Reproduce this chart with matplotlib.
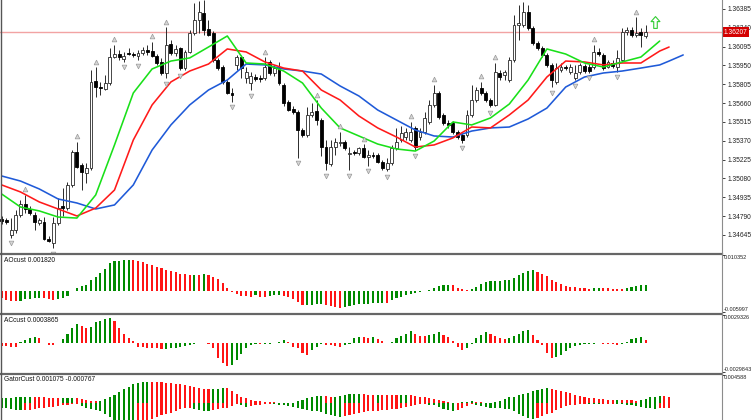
import numpy as np
import matplotlib
matplotlib.use("Agg")
import matplotlib.pyplot as plt
from matplotlib.path import Path
from matplotlib.lines import Line2D

plt.rcParams['font.family'] = ['Liberation Sans', 'DejaVu Sans']

# ---------------- data ----------------
opens = [
    1.34768, 1.34760, 1.34645, 1.34683, 1.34799, 1.34883, 1.34845, 1.34799, 1.34737, 1.34745,
    1.34614, 1.34583, 1.34737, 1.34868, 1.34852, 1.35030, 1.35284, 1.35184, 1.35122, 1.35160,
    1.35830, 1.35784, 1.35769, 1.35815, 1.36015, 1.36038, 1.36000, 1.36046, 1.36038, 1.36023,
    1.36046, 1.36069, 1.36061, 1.36023, 1.35977, 1.35892, 1.36115, 1.36046, 1.36084, 1.35930,
    1.36054, 1.36200, 1.36300, 1.36354, 1.36231, 1.36200, 1.35992, 1.35938, 1.35823, 1.35738,
    1.35954, 1.36015, 1.35853, 1.35815, 1.35861, 1.35853, 1.35853, 1.35977, 1.35892, 1.35930,
    1.35800, 1.35669, 1.35615, 1.35592, 1.35453, 1.35415, 1.35569, 1.35600, 1.35530, 1.35322,
    1.35191, 1.35322, 1.35353, 1.35361, 1.35268, 1.35284, 1.35276, 1.35315, 1.35245, 1.35261,
    1.35261, 1.35207, 1.35153, 1.35199, 1.35315, 1.35376, 1.35399, 1.35376, 1.35469, 1.35399,
    1.35438, 1.35515, 1.35646, 1.35738, 1.35569, 1.35507, 1.35507, 1.35438, 1.35415, 1.35415,
    1.35569, 1.35684, 1.35776, 1.35738, 1.35684, 1.35646, 1.35892, 1.35877, 1.35838, 1.35992,
    1.36262, 1.36262, 1.36362, 1.36238, 1.36123, 1.36084, 1.36031, 1.35954, 1.35823, 1.35915,
    1.35938, 1.35900, 1.35853, 1.35900, 1.35946, 1.35938, 1.35938, 1.36054, 1.36031, 1.35938,
    1.35969, 1.35938, 1.35992, 1.36208, 1.36223, 1.36185, 1.36208, 1.36177]
highs = [
    1.34791, 1.34775, 1.34775, 1.34837, 1.34914, 1.34953, 1.34868, 1.34822, 1.34775, 1.34783,
    1.34637, 1.34783, 1.34929, 1.35006, 1.35053, 1.35299, 1.35361, 1.35199, 1.35199, 1.35915,
    1.35938, 1.35823, 1.35877, 1.36084, 1.36108, 1.36069, 1.36054, 1.36084, 1.36054, 1.36069,
    1.36092, 1.36108, 1.36131, 1.36038, 1.36008, 1.36246, 1.36146, 1.36108, 1.36092, 1.36069,
    1.36223, 1.36431, 1.36446, 1.36454, 1.36300, 1.36215, 1.36008, 1.35954, 1.35838, 1.35776,
    1.36031, 1.36031, 1.35938, 1.35900, 1.35884, 1.35877, 1.36015, 1.35992, 1.35954, 1.35977,
    1.35815, 1.35684, 1.35638, 1.35607, 1.35469, 1.35630, 1.35661, 1.35684, 1.35546, 1.35376,
    1.35376, 1.35392, 1.35438, 1.35376, 1.35322, 1.35299, 1.35322, 1.35345, 1.35299, 1.35284,
    1.35276, 1.35222, 1.35238, 1.35338, 1.35469, 1.35484, 1.35469, 1.35515, 1.35484, 1.35469,
    1.35592, 1.35684, 1.35800, 1.35753, 1.35584, 1.35530, 1.35523, 1.35453, 1.35430, 1.35607,
    1.35800, 1.35784, 1.35823, 1.35753, 1.35700, 1.35969, 1.35915, 1.35915, 1.36015, 1.36339,
    1.36416, 1.36439, 1.36416, 1.36254, 1.36138, 1.36100, 1.36046, 1.35969, 1.35969, 1.35969,
    1.35954, 1.35961, 1.35954, 1.35969, 1.35961, 1.35961, 1.36108, 1.36084, 1.36046, 1.35992,
    1.35992, 1.36069, 1.36238, 1.36246, 1.36246, 1.36323, 1.36238, 1.36262]
lows = [
    1.34729, 1.34729, 1.34622, 1.34660, 1.34783, 1.34814, 1.34799, 1.34683, 1.34722, 1.34606,
    1.34591, 1.34544, 1.34722, 1.34791, 1.34837, 1.35014, 1.35160, 1.34991, 1.35045, 1.35145,
    1.35707, 1.35723, 1.35761, 1.35800, 1.36008, 1.35992, 1.35977, 1.36031, 1.36015, 1.35992,
    1.36031, 1.36031, 1.36015, 1.35954, 1.35877, 1.35853, 1.36031, 1.36023, 1.35915, 1.35915,
    1.36046, 1.36185, 1.36200, 1.36185, 1.36177, 1.35977, 1.35915, 1.35807, 1.35730, 1.35669,
    1.35915, 1.35853, 1.35815, 1.35761, 1.35830, 1.35823, 1.35838, 1.35877, 1.35869, 1.35800,
    1.35638, 1.35600, 1.35576, 1.35238, 1.35399, 1.35399, 1.35553, 1.35492, 1.35253, 1.35145,
    1.35176, 1.35261, 1.35330, 1.35299, 1.35145, 1.35261, 1.35261, 1.35238, 1.35176, 1.35238,
    1.35199, 1.35145, 1.35137, 1.35184, 1.35299, 1.35361, 1.35376, 1.35361, 1.35299, 1.35376,
    1.35422, 1.35500, 1.35630, 1.35538, 1.35492, 1.35469, 1.35422, 1.35384, 1.35353, 1.35399,
    1.35553, 1.35669, 1.35723, 1.35669, 1.35630, 1.35638, 1.35838, 1.35838, 1.35823, 1.35977,
    1.36146, 1.36246, 1.36223, 1.36108, 1.36069, 1.36015, 1.35938, 1.35784, 1.35807, 1.35900,
    1.35915, 1.35884, 1.35838, 1.35884, 1.35892, 1.35892, 1.35923, 1.36023, 1.35915, 1.35930,
    1.35930, 1.35900, 1.35977, 1.36185, 1.36169, 1.36169, 1.36092, 1.36161]
closes = [
    1.34752, 1.34745, 1.34683, 1.34799, 1.34883, 1.34845, 1.34814, 1.34745, 1.34760, 1.34614,
    1.34598, 1.34737, 1.34852, 1.34852, 1.35030, 1.35284, 1.35168, 1.35130, 1.35160, 1.35823,
    1.35784, 1.35776, 1.35815, 1.36015, 1.36038, 1.36015, 1.36023, 1.36038, 1.36031, 1.36046,
    1.36069, 1.36054, 1.36023, 1.35969, 1.35892, 1.36108, 1.36046, 1.36077, 1.35930, 1.36054,
    1.36200, 1.36300, 1.36362, 1.36223, 1.36185, 1.35992, 1.35930, 1.35823, 1.35738, 1.35723,
    1.36015, 1.35930, 1.35900, 1.35869, 1.35846, 1.35846, 1.35938, 1.35892, 1.35930, 1.35815,
    1.35661, 1.35607, 1.35592, 1.35453, 1.35415, 1.35569, 1.35592, 1.35530, 1.35322, 1.35199,
    1.35322, 1.35361, 1.35361, 1.35315, 1.35276, 1.35276, 1.35315, 1.35245, 1.35261, 1.35253,
    1.35207, 1.35160, 1.35199, 1.35315, 1.35361, 1.35430, 1.35438, 1.35438, 1.35322, 1.35438,
    1.35546, 1.35646, 1.35738, 1.35553, 1.35507, 1.35492, 1.35438, 1.35399, 1.35376, 1.35569,
    1.35684, 1.35761, 1.35738, 1.35684, 1.35646, 1.35900, 1.35861, 1.35900, 1.35992, 1.36262,
    1.36277, 1.36362, 1.36238, 1.36123, 1.36084, 1.36031, 1.35954, 1.35838, 1.35930, 1.35938,
    1.35930, 1.35938, 1.35892, 1.35954, 1.35907, 1.35907, 1.36054, 1.36038, 1.35930, 1.35977,
    1.35946, 1.36008, 1.36208, 1.36223, 1.36185, 1.36200, 1.36185, 1.36208]

# Alligator lines (sampled bar index -> price); lines run past the last candle
jaw_bars = list(range(0, 141, 4)) + [142, 145]
jaw = [1.35099, 1.35060, 1.34999, 1.34922, 1.34891, 1.34845, 1.34876, 1.35030, 1.35299, 1.35492,
       1.35646, 1.35761, 1.35838, 1.35961, 1.35954, 1.35923, 1.35907, 1.35884, 1.35792, 1.35715,
       1.35607, 1.35530, 1.35453, 1.35407, 1.35399, 1.35445, 1.35469, 1.35476, 1.35538, 1.35622,
       1.35784, 1.35861, 1.35892, 1.35907, 1.35930, 1.35954, 1.35984, 1.36031]
teeth_bars = list(range(0, 141, 4)) + [142]
teeth = [1.35030, 1.34976, 1.34899, 1.34845, 1.34791, 1.34852, 1.34991, 1.35376, 1.35646, 1.35823,
         1.35907, 1.35961, 1.36077, 1.36054, 1.35977, 1.35930, 1.35907, 1.35761, 1.35684, 1.35561,
         1.35469, 1.35399, 1.35322, 1.35338, 1.35392, 1.35476, 1.35469, 1.35569, 1.35684, 1.35861,
         1.35984, 1.35977, 1.35954, 1.35969, 1.35969, 1.36061, 1.36092]
lips_bars = list(range(0, 141, 4))
lips = [1.34960, 1.34860, 1.34830, 1.34783, 1.34775, 1.34953, 1.35338, 1.35738, 1.35923, 1.35984,
        1.36008, 1.36092, 1.36177, 1.35969, 1.35961, 1.35907, 1.35815, 1.35622, 1.35469, 1.35407,
        1.35345, 1.35307, 1.35291, 1.35368, 1.35515, 1.35492, 1.35546, 1.35653, 1.35838, 1.36077,
        1.36038, 1.35969, 1.35938, 1.35977, 1.36015, 1.36138]

fractal_up = [5, 16, 20, 24, 32, 35, 56, 67, 72, 77, 87, 92, 102, 105, 126, 135]
fractal_down = [2, 11, 26, 29, 35, 38, 49, 53, 63, 69, 74, 78, 82, 88, 98, 104, 117, 122, 125, 131]

signal_bar = 139
signal_price = 1.36281
last_price = 1.36207
price_ticks = [1.36385, 1.36240, 1.36095, 1.35950, 1.35805, 1.35660, 1.35515,
               1.35370, 1.35225, 1.35080, 1.34935, 1.34790, 1.34645]
price_range = (1.34506, 1.36454)

ao = [
    -0.00211, -0.00258, -0.00280, -0.00290, -0.00282, -0.00239, -0.00230, -0.00211, -0.00191, -0.00211,
    -0.00239, -0.00245, -0.00220, -0.00191, -0.00134, 0.00010, 0.00077, 0.00153, 0.00172, 0.00316,
    0.00412, 0.00507, 0.00632, 0.00794, 0.00861, 0.00871, 0.00880, 0.00900, 0.00895, 0.00861,
    0.00823, 0.00775, 0.00746, 0.00699, 0.00651, 0.00610, 0.00574, 0.00536, 0.00498, 0.00478,
    0.00459, 0.00462, 0.00455, 0.00478, 0.00470, 0.00412, 0.00335, 0.00220, 0.00077, -0.00038,
    -0.00096, -0.00134, -0.00153, -0.00163, -0.00115, -0.00163, -0.00172, -0.00134, -0.00115, -0.00105,
    -0.00134, -0.00163, -0.00230, -0.00306, -0.00395, -0.00390, -0.00385, -0.00375, -0.00370, -0.00402,
    -0.00421, -0.00450, -0.00478, -0.00469, -0.00421, -0.00402, -0.00383, -0.00373, -0.00364, -0.00355,
    -0.00345, -0.00330, -0.00340, -0.00268, -0.00211, -0.00163, -0.00115, -0.00077, -0.00048, -0.00029,
    -0.00010, 0.00038, 0.00077, 0.00134, 0.00172, 0.00182, 0.00163, 0.00096, 0.00057, 0.00038,
    0.00067, 0.00115, 0.00191, 0.00249, 0.00287, 0.00290, 0.00300, 0.00305, 0.00315, 0.00383,
    0.00459, 0.00507, 0.00574, 0.00593, 0.00555, 0.00498, 0.00421, 0.00316, 0.00249, 0.00191,
    0.00144, 0.00115, 0.00110, 0.00096, 0.00077, 0.00072, 0.00080, 0.00096, 0.00090, 0.00077,
    0.00072, 0.00057, 0.00048, 0.00077, 0.00115, 0.00144, 0.00172, 0.00182]
ao_range = (-0.005997, 0.010352)

ac = [
    -0.00024, -0.00030, -0.00034, -0.00038, 0.00010, 0.00035, 0.00059, 0.00061, 0.00052, 0.00007,
    -0.00017, -0.00020, 0.00005, 0.00045, 0.00093, 0.00156, 0.00197, 0.00183, 0.00156, 0.00173,
    0.00218, 0.00232, 0.00253, 0.00266, 0.00232, 0.00156, 0.00093, 0.00052, 0.00024, -0.00035,
    -0.00042, -0.00045, -0.00052, -0.00054, -0.00058, -0.00055, -0.00050, -0.00048, -0.00040, -0.00030,
    -0.00018, -0.00005, -0.00002, 0.00003, -0.00008, -0.00052, -0.00156, -0.00208, -0.00232, -0.00225,
    -0.00173, -0.00114, -0.00052, -0.00020, -0.00010, -0.00012, -0.00008, -0.00003, 0.00002, 0.00008,
    0.00035, 0.00017, -0.00035, -0.00052, -0.00104, -0.00121, -0.00069, -0.00035, -0.00010, -0.00015,
    -0.00020, -0.00030, -0.00040, -0.00020, -0.00005, 0.00052, 0.00066, 0.00062, 0.00059, 0.00069,
    0.00048, 0.00024, 0.00007, 0.00014, 0.00055, 0.00076, 0.00100, 0.00125, 0.00100, 0.00076,
    0.00073, 0.00090, 0.00100, 0.00118, 0.00090, 0.00066, 0.00021, -0.00038, -0.00073, -0.00048,
    -0.00007, 0.00055, 0.00090, 0.00118, 0.00100, 0.00076, 0.00055, 0.00048, 0.00050, 0.00076,
    0.00100, 0.00125, 0.00135, 0.00090, 0.00031, -0.00021, -0.00097, -0.00152, -0.00142, -0.00118,
    -0.00083, -0.00048, -0.00028, -0.00014, -0.00010, -0.00007, -0.00003, 0.00003, -0.00003, -0.00007,
    -0.00010, -0.00017, -0.00010, 0.00014, 0.00045, 0.00058, 0.00062, 0.000387]
ac_range = (-0.0029843, 0.0029326)

gator_up = [
    0.00080, 0.00085, 0.00090, 0.00095, 0.00098, 0.00102, 0.00105, 0.00103, 0.00100, 0.00095,
    0.00088, 0.00085, 0.00080, 0.00082, 0.00085, 0.00088, 0.00086, 0.00075, 0.00055, 0.00040,
    0.00030, 0.00045, 0.00075, 0.00110, 0.00140, 0.00180, 0.00225, 0.00270, 0.00305, 0.00330,
    0.00345, 0.00350, 0.00348, 0.00345, 0.00340, 0.00335, 0.00330, 0.00320, 0.00305, 0.00295,
    0.00285, 0.00270, 0.00255, 0.00240, 0.00225, 0.00230, 0.00240, 0.00250, 0.00245, 0.00200,
    0.00150, 0.00110, 0.00080, 0.00060, 0.00045, 0.00035, 0.00025, 0.00020, 0.00015, 0.00012,
    0.00008, 0.00005, 0.00010, 0.00030, 0.00060, 0.00085, 0.00100, 0.00115, 0.00125, 0.00115,
    0.00108, 0.00110, 0.00120, 0.00135, 0.00145, 0.00152, 0.00155, 0.00150, 0.00142, 0.00138,
    0.00140, 0.00137, 0.00135, 0.00132, 0.00130, 0.00132, 0.00134, 0.00130, 0.00125, 0.00110,
    0.00095, 0.00080, 0.00065, 0.00050, 0.00035, 0.00020, 0.00010, 0.00012, 0.00020, 0.00028,
    0.00030, 0.00025, 0.00015, 0.00008, 0.00005, 0.00020, 0.00045, 0.00075, 0.00095, 0.00110,
    0.00130, 0.00150, 0.00170, 0.00195, 0.00220, 0.00240, 0.00245, 0.00235, 0.00220, 0.00200,
    0.00185, 0.00160, 0.00140, 0.00120, 0.00110, 0.00090, 0.00080, 0.00070, 0.00065, 0.00062,
    0.00060, 0.00062, 0.00058, 0.00055, 0.00050, 0.00045, 0.00055, 0.00075, 0.00095, 0.00110,
    0.00120, 0.00115, 0.001075]
gator_down = [
    -0.00070, -0.00080, -0.00095, -0.00105, -0.00115, -0.00110, -0.00100, -0.00090, -0.00078, -0.00070,
    -0.00060, -0.00052, -0.00046, -0.00035, -0.00025, -0.00018, -0.00015, -0.00040, -0.00070, -0.00090,
    -0.00100, -0.00130, -0.00175, -0.00220, -0.00285, -0.00320, -0.00345, -0.00360, -0.00362, -0.00350,
    -0.00320, -0.00290, -0.00250, -0.00215, -0.00185, -0.00165, -0.00150, -0.00120, -0.00095, -0.00080,
    -0.00075, -0.00090, -0.00115, -0.00125, -0.00130, -0.00110, -0.00085, -0.00075, -0.00070, -0.00040,
    -0.00015, -0.00035, -0.00060, -0.00050, -0.00035, -0.00025, -0.00015, -0.00010, -0.00018, -0.00022,
    -0.00025, -0.00045, -0.00065, -0.00080, -0.00092, -0.00105, -0.00120, -0.00130, -0.00140, -0.00165,
    -0.00190, -0.00205, -0.00215, -0.00200, -0.00185, -0.00170, -0.00155, -0.00140, -0.00132, -0.00128,
    -0.00123, -0.00115, -0.00105, -0.00098, -0.00092, -0.00075, -0.00055, -0.00040, -0.00030, -0.00018,
    -0.00010, -0.00020, -0.00030, -0.00060, -0.00090, -0.00110, -0.00123, -0.00100, -0.00070, -0.00040,
    -0.00015, -0.00030, -0.00050, -0.00065, -0.00077, -0.00080, -0.00082, -0.00085, -0.00088, -0.00130,
    -0.00170, -0.00210, -0.00240, -0.00250, -0.00230, -0.00200, -0.00180, -0.00150, -0.00110, -0.00075,
    -0.00050, -0.00035, -0.00020, -0.00012, -0.00008, -0.00012, -0.00015, -0.00016, -0.00015, -0.00010,
    -0.00008, -0.00010, -0.00012, -0.00020, -0.00035, -0.00048, -0.00060, -0.00070, -0.00080, -0.00085,
    -0.00082, -0.00079, -0.000767]
gator_range = (-0.00270, 0.004588)

ao_label = "AOcust 0.001820"
ac_label = "ACcust 0.0003865"
gator_label = "GatorCust 0.001075 -0.000767"

# ---------------- layout (pixels of a 752x420 picture) ----------------
W, H = 752, 420
RIGHT = 722            # x of the price scale line
X0, DX = 1.7, 4.7      # pixel x of bar 0 and bar spacing
PX = (price_range[1] - price_range[0]) / 253.0   # price per pixel in main pane
GREEN, RED = '#008a00', '#ff1414'
FS = 4.8
FS_SMALL = 3.95

fig = plt.figure(figsize=(W / 100, H / 100), dpi=100)
fig.patch.set_facecolor('white')


def px_axes(top, bottom):
    return fig.add_axes([0, 1 - bottom / H, RIGHT / W, (bottom - top) / H])


ax_m = px_axes(0, 253)
ax_ao = px_axes(255, 312)
ax_ac = px_axes(315, 372)
ax_g = px_axes(375, 420)
xlim = (-X0 / DX, (RIGHT - X0) / DX)


def style(ax, ylim):
    ax.set_xlim(*xlim)
    ax.set_ylim(*ylim)
    ax.set_xticks([])
    ax.yaxis.tick_right()
    ax.tick_params(axis='y', length=2.5, width=0.6, pad=1.2, labelsize=FS,
                   colors='#222222')
    for s in ax.spines.values():
        s.set_visible(False)
    ax.set_facecolor('white')


for ax, rng in ((ax_m, price_range), (ax_ao, ao_range), (ax_ac, ac_range), (ax_g, gator_range)):
    style(ax, rng)

# ---------------- main pane ----------------
x = np.arange(len(opens))
o, h, l, c = (np.array(a) for a in (opens, highs, lows, closes))
bull = c >= o
body_bot = np.minimum(o, c)
body_h = np.maximum(np.abs(c - o), PX * 0.9)

ax_m.axhline(last_price, color='#f2a3a3', lw=1.0, zorder=1)
ax_m.vlines(x, l, h, color='#2a2a2a', lw=0.7, zorder=3)
ax_m.bar(x[bull], body_h[bull], bottom=body_bot[bull], width=0.62,
         color='white', edgecolor='#2a2a2a', linewidth=0.6, zorder=4)
ax_m.bar(x[~bull], body_h[~bull], bottom=body_bot[~bull], width=0.62,
         color='black', edgecolor='black', linewidth=0.6, zorder=4)

ax_m.plot(jaw_bars, jaw, color='#1f5ad8', lw=1.15, zorder=5, solid_capstyle='round')
ax_m.plot(teeth_bars, teeth, color='#ff1a1a', lw=1.15, zorder=5, solid_capstyle='round')
ax_m.plot(lips_bars, lips, color='#19e019', lw=1.15, zorder=5, solid_capstyle='round')

fu = np.array(fractal_up)
fd = np.array(fractal_down)
ax_m.plot(fu, h[fu] + 5.5 * PX, ls='none', marker='^', ms=3.4, mfc='#d6d6d6',
          mec='#999999', mew=0.5, zorder=6)
ax_m.plot(fd, l[fd] - 5.5 * PX, ls='none', marker='v', ms=3.4, mfc='#d6d6d6',
          mec='#999999', mew=0.5, zorder=6)

arrow = Path([(0, 1), (0.75, 0.15), (0.3, 0.15), (0.3, -1), (-0.3, -1), (-0.3, 0.15),
              (-0.75, 0.15), (0, 1)],
             [Path.MOVETO] + [Path.LINETO] * 6 + [Path.CLOSEPOLY])
ax_m.plot([signal_bar], [signal_price], ls='none', marker=arrow, ms=8.5,
          mfc='white', mec='#33cc33', mew=0.8, zorder=7)

ax_m.set_yticks(price_ticks)
ax_m.set_yticklabels([f"{v:.5f}" for v in price_ticks])
ax_m.text(1 + 1.5 / RIGHT, last_price, f"{last_price:.5f}", transform=ax_m.get_yaxis_transform(),
          ha='left', va='center', fontsize=FS, color='white', clip_on=False, zorder=10,
          bbox=dict(boxstyle='square,pad=0.28', fc='#d40000', ec='none'))


# ---------------- indicator panes ----------------
def rising(vals, first):
    cols = [first]
    for prev, cur in zip(vals[:-1], vals[1:]):
        cols.append(GREEN if cur > prev else RED)
    return cols


ax_ao.bar(np.arange(len(ao)), ao, width=0.45, color=rising(ao, RED), linewidth=0)
ax_ac.bar(np.arange(len(ac)), ac, width=0.45, color=rising(ac, RED), linewidth=0)
gx = np.arange(len(gator_up))
ax_g.bar(gx, gator_up, width=0.45, color=rising(gator_up, GREEN), linewidth=0)
gd_mag = [-v for v in gator_down]
ax_g.bar(gx, gator_down, width=0.45, color=rising(gd_mag, GREEN), linewidth=0)

for ax, rng, label, show_low in ((ax_ao, ao_range, ao_label, True),
                                  (ax_ac, ac_range, ac_label, True),
                                  (ax_g, gator_range, gator_label, False)):
    ticks = [rng[1], rng[0]] if show_low else [rng[1]]
    ax.set_yticks(ticks)
    ax.tick_params(axis='y', labelright=False)
    tr = ax.get_yaxis_transform()
    ax.text(1 + 1.5 / RIGHT, rng[1], repr(rng[1]), transform=tr, ha='left', va='top',
            fontsize=FS_SMALL, color='#222222', clip_on=False)
    if show_low:
        ax.text(1 + 1.5 / RIGHT, rng[0], repr(rng[0]), transform=tr, ha='left', va='bottom',
                fontsize=FS_SMALL, color='#222222', clip_on=False)
    ax.text(0.005, 0.97, label, transform=ax.transAxes, ha='left', va='top',
            fontsize=FS, color='#111111')

# ---------------- frame lines ----------------
for ypx in (254, 313.5, 373.5):
    fig.add_artist(Line2D([0, RIGHT / W], [1 - ypx / H] * 2, color='#666666', lw=1.6))
fig.add_artist(Line2D([RIGHT / W] * 2, [0, 1], color='#8c8c8c', lw=0.8))
fig.add_artist(Line2D([0.8 / W] * 2, [0, 1], color='#555555', lw=1.0))

fig.savefig('out.png', dpi=100, facecolor='white')
